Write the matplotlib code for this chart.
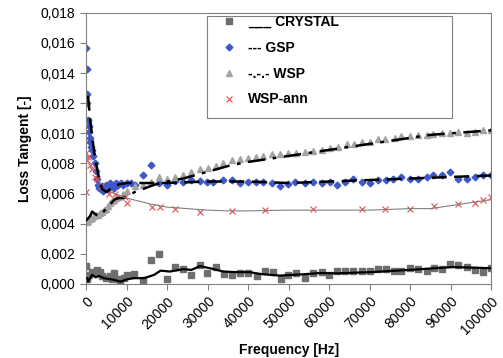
import matplotlib
matplotlib.use("Agg")
import matplotlib.pyplot as plt
from matplotlib.lines import Line2D
from matplotlib.patches import Rectangle
from matplotlib.ticker import FuncFormatter, MultipleLocator

plt.rcParams["font.family"] = ["Liberation Sans", "DejaVu Sans"]

# ---- data (frequency in Hz, loss tangent) ----
crystal_x = [0, 0, 300, 800, 1550, 2400, 2600, 3200, 3400, 4000, 4900, 5900, 6400,
             6900, 7700, 8500, 9400, 10000, 11800, 14100, 16000, 18000, 19900,
             21900, 24000, 26000, 28100, 29900, 32000, 34000, 35900, 38000, 40000,
             42100, 44100, 46000, 48000, 49900, 51900, 54000, 56000, 58100, 60000,
             62000, 63900, 65900, 68000, 70000, 72100, 74000, 75900, 77800, 79900,
             81900, 84000, 85800, 87900, 89900, 91800, 93900, 95900, 98000, 100000]
crystal_y = [0.0012, 0.0004, 0.0003, 0.0006, 0.0008, 0.0008, 0.0009, 0.0007, 0.0008,
             0.0005, 0.0004, 0.0005, 0.0003, 0.0007, 0.0003, 0.0002, 0.0004, 0.0006,
             0.00066, 0.00027, 0.0016, 0.0020, 0.0003, 0.00112, 0.00098, 0.0006,
             0.00126, 0.0007, 0.0011, 0.00064, 0.0006, 0.0007, 0.0007, 0.0005,
             0.00088, 0.00078, 0.0003, 0.0006, 0.00075, 0.0004, 0.0007, 0.00078,
             0.0006, 0.00086, 0.00086, 0.00086, 0.00086, 0.00088, 0.0010, 0.00098,
             0.00086, 0.00086, 0.00104, 0.00098, 0.00086, 0.00104, 0.00098, 0.0013,
             0.00126, 0.00115, 0.00093, 0.0008, 0.00104]
crystal_fit_x = [300, 500, 1500, 2400, 3200, 4400, 6900, 8500, 10000, 11800, 14300,
                 16800, 18400, 20700, 24000, 26000, 28100, 30600, 33900, 37100, 40400,
                 42900, 47800, 53600, 57700, 62000, 70000, 79900, 90600, 100000]
crystal_fit_y = [0.00038, 0.00015, 0.0006, 0.00044, 0.00053, 0.00038, 0.00027, 0.00015,
                 0.0003, 0.00038, 0.00038, 0.0006, 0.00088, 0.00082, 0.00098, 0.00093,
                 0.00118, 0.00104, 0.00082, 0.00078, 0.00078, 0.00066, 0.00055, 0.00064,
                 0.00072, 0.0007, 0.00078, 0.00093, 0.00112, 0.00104]

gsp_x = [100, 150, 250, 350, 500, 650, 800, 950, 1100, 1300, 1500, 1800, 2100, 2400,
         2700, 3000, 3300, 3600, 4000, 4300, 4700, 5000, 5400, 5800, 6200, 6600, 7000,
         7500, 8000, 8600, 9200, 10000, 11000, 12000, 14000, 16000, 18000, 20000,
         22000, 24000, 26000, 28100, 29800, 31400, 33900, 35900, 38000, 40000, 41900,
         43700, 45800, 47800, 49900, 51500, 54000, 56000, 58100, 60100, 61800, 63900,
         65900, 68000, 70000, 72100, 74100, 75800, 77800, 79900, 82000, 84000, 85600,
         87700, 89700, 91800, 93900, 95900, 98000, 100000]
gsp_y = [0.0157, 0.0143, 0.0126, 0.0120, 0.0109, 0.0105, 0.0101, 0.0097, 0.0094,
         0.0091, 0.0089, 0.0085, 0.0080, 0.0075, 0.0070, 0.0066, 0.0064, 0.0063, 0.0065,
         0.0062, 0.0064, 0.0066, 0.0063, 0.0067, 0.0065, 0.0066, 0.0064, 0.0067, 0.0066,
         0.0067, 0.0066, 0.0067, 0.0067, 0.0066, 0.0072, 0.0079, 0.0067, 0.0066,
         0.00684, 0.0068, 0.0069, 0.00686, 0.0068, 0.0068, 0.0069, 0.0069, 0.00673,
         0.0068, 0.0068, 0.00675, 0.0067, 0.0065, 0.00664, 0.00675, 0.0067, 0.0068,
         0.0067, 0.0068, 0.0066, 0.0068, 0.00695, 0.0068, 0.00673, 0.0069, 0.0069,
         0.0070, 0.0071, 0.0070, 0.00695, 0.0071, 0.0072, 0.0072, 0.0074, 0.0070,
         0.0070, 0.0071, 0.0072, 0.0072]
gsp_fit_x = [500, 1000, 1500, 2000, 2500, 3000, 3500, 4000, 5000, 6000, 8000, 10000,
             15000, 20000, 30000, 40000, 50000, 60000, 70000, 80000, 90000, 100000]
gsp_fit_y = [0.0125, 0.0110, 0.0098, 0.0088, 0.0080, 0.0073, 0.0067, 0.0063, 0.0061,
             0.0063, 0.0066, 0.0067, 0.0067, 0.0067, 0.0068, 0.0068, 0.0067, 0.0068,
             0.0069, 0.0070, 0.0071, 0.0072]

wsp_x = [200, 600, 1000, 1500, 2000, 2500, 3000, 3500, 4000, 4500, 5000, 5500, 6000,
         6500, 7000, 7500, 8000, 9000, 10000, 12000, 14000, 16000, 18000, 20000, 22000,
         24000, 26000, 28100, 30200, 32000, 33900, 35900, 38000, 40000, 41900, 43700,
         45800, 47800, 49900, 51900, 54000, 56000, 58100, 60100, 62200, 64300, 66000,
         68000, 70000, 72000, 73700, 76200, 77800, 79900, 81900, 84000, 85600, 87700,
         89700, 91800, 93900, 95900, 98000, 100000]
wsp_y = [0.0041, 0.0042, 0.0043, 0.0044, 0.0045, 0.0046, 0.0046, 0.0047, 0.0048,
         0.0049, 0.0050, 0.0052, 0.0054, 0.0055, 0.0056, 0.0057, 0.0058, 0.0060, 0.0062,
         0.0065, 0.0066, 0.0068, 0.0071, 0.0070, 0.0071, 0.00724, 0.00746, 0.0076,
         0.00768, 0.0078, 0.0080, 0.0082, 0.0083, 0.00835, 0.0084, 0.0085, 0.0086,
         0.0086, 0.0087, 0.0087, 0.00874, 0.0088, 0.0089, 0.0090, 0.0091, 0.0093,
         0.0093, 0.0094, 0.0094, 0.0096, 0.0096, 0.0097, 0.0098, 0.0098, 0.0099,
         0.0099, 0.00996, 0.0100, 0.0100, 0.0101, 0.0100, 0.0101, 0.0102, 0.0102]
wsp_fit_x = [0, 1000, 1500, 2000, 3000, 4000, 5000, 6000, 7000, 8000, 9000, 10000,
             12000, 14000, 17000, 20000, 24000, 28000, 32000, 36000, 40000, 45000,
             50000, 55000, 60000, 65000, 70000, 75000, 80000, 85000, 90000, 95000, 100000]
wsp_fit_y = [0.0042, 0.0045, 0.0048, 0.0047, 0.0045, 0.0047, 0.0050, 0.0053, 0.0056,
             0.0057, 0.0057, 0.0058, 0.0061, 0.0063, 0.0066, 0.0068, 0.0070, 0.0073,
             0.0076, 0.0079, 0.0081, 0.0083, 0.0085, 0.0087, 0.0089, 0.0091, 0.0093,
             0.0095, 0.0097, 0.0099, 0.0100, 0.0101, 0.0102]

ann_x = [0, 100, 200, 400, 1000, 1600, 2200, 2800, 3600, 5700, 7200, 9600, 10000,
         16200, 18200, 21900, 28100, 35900, 44100, 56000, 68000, 73700, 79900, 85900,
         91800, 95900, 98000, 100000]
ann_y = [0.0061, 0.0087, 0.0082, 0.0084, 0.0079, 0.0076, 0.0071, 0.0070, 0.0065,
         0.0060, 0.0060, 0.0058, 0.0054, 0.0051, 0.0051, 0.0050, 0.0048, 0.00487,
         0.0049, 0.00496, 0.00496, 0.0050, 0.0050, 0.0052, 0.0053, 0.0054, 0.0056,
         0.0058]
ann_fit_x = [6000, 8000, 10000, 13000, 16000, 20000, 25000, 30000, 35000, 40000,
             50000, 60000, 70000, 80000, 85000, 90000, 95000, 100000]
ann_fit_y = [0.0061, 0.0059, 0.0057, 0.0055, 0.0053, 0.0051, 0.0050, 0.0049, 0.00485,
             0.00485, 0.0049, 0.0049, 0.0049, 0.0050, 0.0050, 0.0052, 0.0054, 0.0056]

legend_labels = ["___ CRYSTAL", "--- GSP", "-.-.- WSP", "WSP-ann"]

C_SQ = "#6e6e6e"
C_DIA = "#3f58c9"
C_TRI = "#a3a3a3"
C_X = "#e05050"


def comma(v, _pos):
    return f"{v:.3f}".replace(".", ",")


fig = plt.figure(figsize=(5.03, 3.58), dpi=100)
ax = fig.add_axes([0.171, 0.207, 0.806, 0.757])

ax.plot(crystal_x, crystal_y, ls="none", marker="s", ms=4.3, color=C_SQ, mec=C_SQ, zorder=2)
ax.plot(gsp_x, gsp_y, ls="none", marker="D", ms=3.4, color=C_DIA, mec=C_DIA, zorder=2)
ax.plot(wsp_x, wsp_y, ls="none", marker="^", ms=4.6, color=C_TRI, mec=C_TRI, zorder=2)
ax.plot(ann_x, ann_y, ls="none", marker="x", ms=5, mew=0.8, color=C_X, zorder=2)

ax.plot(crystal_fit_x, crystal_fit_y, color="black", lw=1.6, zorder=3)
ax.plot(gsp_fit_x, gsp_fit_y, color="black", lw=1.8, dashes=(6, 3), zorder=3)
ax.plot(wsp_fit_x, wsp_fit_y, color="black", lw=1.8, dashes=(7, 3, 1.5, 3), zorder=3)
ax.plot(ann_fit_x, ann_fit_y, color="#808080", lw=0.8, zorder=3)

ax.set_xlim(0, 100000)
ax.set_ylim(0, 0.018)
ax.xaxis.set_major_locator(MultipleLocator(10000))
ax.yaxis.set_major_locator(MultipleLocator(0.002))
ax.yaxis.set_major_formatter(FuncFormatter(comma))
ax.xaxis.set_major_formatter(FuncFormatter(lambda v, p: f"{int(round(v))}"))
for lab in ax.get_xticklabels():
    lab.set_rotation(45)
    lab.set_ha("right")
    lab.set_rotation_mode("anchor")
ax.tick_params(labelsize=10, color="#808080", length=4, width=0.8)
for s in ax.spines.values():
    s.set_color("#808080")
    s.set_linewidth(0.8)

ax.set_xlabel("Frequency [Hz]", fontsize=10, fontweight="bold", labelpad=4)
ax.set_ylabel("Loss Tangent [-]", fontsize=10, fontweight="bold", labelpad=6)

handles = [
    Line2D([], [], ls="none", marker="s", ms=4.3, color=C_SQ),
    Line2D([], [], ls="none", marker="D", ms=3.4, color=C_DIA),
    Line2D([], [], ls="none", marker="^", ms=4.6, color=C_TRI),
    Line2D([], [], ls="none", marker="x", ms=5, mew=0.8, color=C_X),
]
leg = fig.legend(handles, legend_labels, loc="upper left",
                 bbox_to_anchor=(222 / 503, 1 - 15 / 358), frameon=False,
                 borderpad=0, borderaxespad=0, handlelength=1.0, handletextpad=0.9,
                 labelspacing=0.85, prop={"size": 10, "weight": "bold"})
fig.add_artist(Rectangle((207 / 503, 1 - 118 / 358), 245 / 503, 102 / 358,
                         transform=fig.transFigure, fill=True, facecolor="white",
                         edgecolor="#808080", lw=0.8, zorder=1))

fig.savefig("out.png", dpi=100)
